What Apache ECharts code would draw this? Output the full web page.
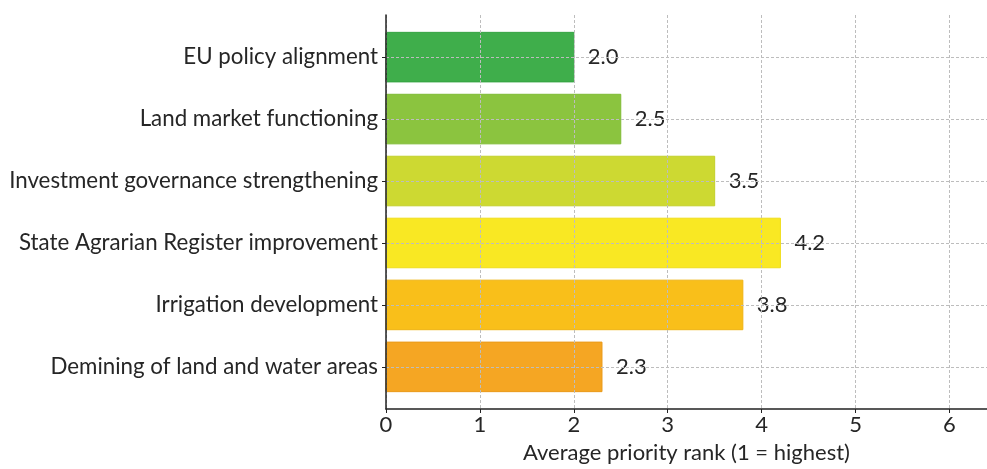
<!DOCTYPE html>
<html>
<head>
<meta charset="utf-8">
<script src="https://cdn.jsdelivr.net/npm/echarts@6/dist/echarts.min.js"></script>
<style>
  html, body { margin: 0; padding: 0; background: #fff; }
  #chart { width: 987px; height: 469px; }
</style>
</head>
<body>
<div id="chart"></div>
<script>
// Policy priorities, top to bottom
const categories = [
  'EU policy alignment',
  'Land market functioning',
  'Investment governance strengthening',
  'State Agrarian Register improvement',
  'Irrigation development',
  'Demining of land and water areas'
];
const values = [2.0, 2.5, 3.5, 4.2, 3.8, 2.3];
const xTicks = [0, 1, 2, 3, 4, 5, 6];

// Bar fills and their thin outlines
const barColors = ['#3fae4b', '#8bc43f', '#cdd932', '#f9e823', '#f9bf1a', '#f5a623'];
const edgeColors = ['#35a343', '#7fbb35', '#c3d02a', '#efdd1a', '#efb312', '#ea9a1a'];

const FONT = 'Lato';
const TEXT = '#262626';
const chart = echarts.init(document.getElementById('chart'));
const positions = categories.map((_, i) => i);

chart.setOption({
  animation: false,
  textStyle: { fontFamily: FONT },
  grid: { left: 386, right: 0, top: 15, bottom: 56, containLabel: false },
  xAxis: {
    type: 'value',
    min: 0,
    max: 6.4,
    z: 5,
    axisLine: { show: true, onZero: false, lineStyle: { color: '#222', width: 1.5 } },
    axisTick: { show: true, length: 4, lineStyle: { color: '#222' }, customValues: xTicks },
    axisLabel: { customValues: xTicks, color: TEXT, fontSize: 22, fontFamily: FONT, margin: 5 },
    splitLine: { show: true, lineStyle: { color: '#bdbdbd', type: [3, 2], width: 1 } },
    name: 'Average priority rank (1 = highest)',
    nameLocation: 'middle',
    nameGap: 33,
    nameTextStyle: { color: TEXT, fontSize: 22, fontFamily: FONT }
  },
  yAxis: {
    type: 'value',
    inverse: true,
    min: -0.68,
    max: 5.68,
    z: 5,
    axisLine: { show: true, onZero: false, lineStyle: { color: '#222', width: 1.5 } },
    axisTick: { show: true, length: 4, lineStyle: { color: '#222' }, customValues: positions },
    axisLabel: {
      customValues: positions,
      color: TEXT, fontSize: 22.3, fontFamily: FONT, margin: 8,
      formatter: v => categories[Math.round(v)]
    },
    splitLine: { show: true, lineStyle: { color: '#bdbdbd', type: [3, 2], width: 1 } }
  },
  series: [{
    type: 'custom',
    z: 1,
    data: values.map((v, i) => [v, i]),
    renderItem: (params, api) => {
      const v = api.value(0);
      const i = api.value(1);
      const half = 0.4;
      const p0 = api.coord([0, i - half]);
      const p1 = api.coord([v, i + half]);
      const end = api.coord([v, i]);
      return {
        type: 'group',
        children: [
          {
            type: 'rect',
            shape: { x: p0[0], y: p0[1], width: p1[0] - p0[0], height: p1[1] - p0[1] },
            style: { fill: barColors[params.dataIndex], stroke: edgeColors[params.dataIndex], lineWidth: 1 }
          },
          {
            type: 'text',
            style: {
              x: end[0] + 14, y: end[1],
              text: v.toFixed(1),
              fill: TEXT, fontSize: 22, fontFamily: FONT,
              verticalAlign: 'middle', align: 'left'
            }
          }
        ]
      };
    }
  }]
});
</script>
</body>
</html>
